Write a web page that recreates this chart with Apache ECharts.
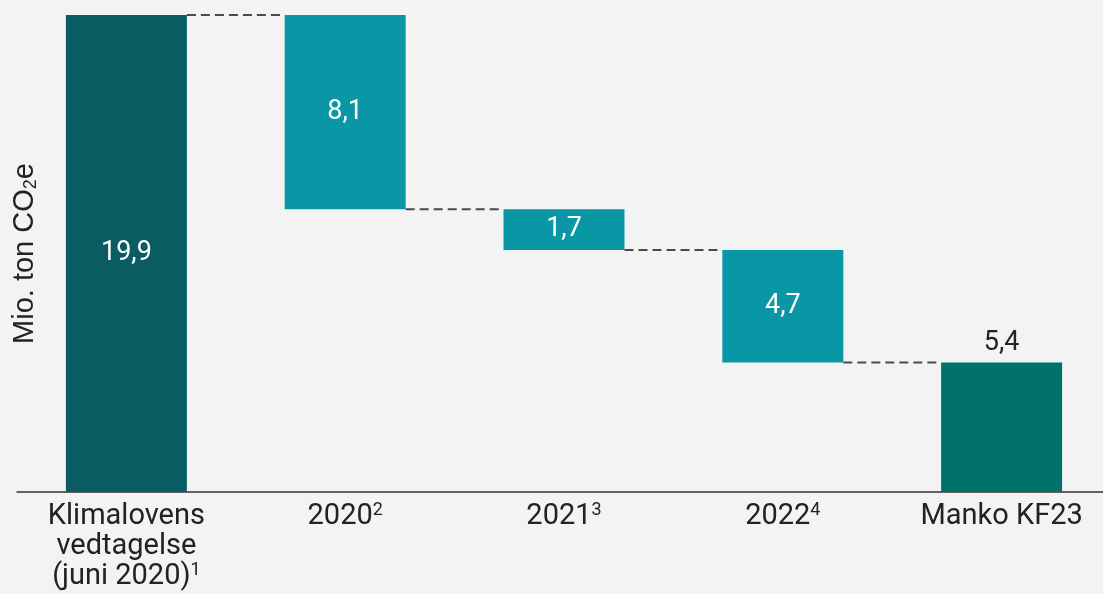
<!DOCTYPE html>
<html><head><meta charset="utf-8">
<script src="https://cdn.jsdelivr.net/npm/echarts@6/dist/echarts.min.js"></script>
<style>html,body{margin:0;padding:0;background:#f3f3f3;overflow:hidden}#c{width:1103px;height:594px}</style>
</head><body><div id="c"></div>
<script>
const categories = ['Klimalovens\nvedtagelse\n(juni 2020){sup|1}', '2020{sup|2}', '2021{sup|3}', '2022{sup|4}', 'Manko KF23'];
const values = [19.9, 8.1, 1.7, 4.7, 5.4];
const kinds = ['total', 'drop', 'drop', 'drop', 'total'];
const colors = ['#0b5b63', '#0a97a5', '#0a97a5', '#0a97a5', '#00726a'];

// compute waterfall bases
const bases = [];
const levels = [];
let level = 0;
values.forEach((v, i) => {
  if (kinds[i] === 'total') { bases.push(0); level = v; }
  else { level = level - v; bases.push(level); }
  levels.push(kinds[i] === 'total' ? v : level);
});
const connectors = [];
for (let i = 0; i < values.length - 1; i++) connectors.push([i, levels[i]]);

const BAR_W = 121;
const fmt = v => v.toFixed(1).replace('.', ',');
const chart = echarts.init(document.getElementById('c'));
chart.setOption({
  backgroundColor: '#f3f3f3',
  animation: false,
  grid: { left: 17, top: 15, width: 1094, bottom: 102, containLabel: false, outerBoundsMode: 'none' },
  xAxis: {
    type: 'category', data: categories,
    axisLine: { lineStyle: { color: '#333', width: 1.5 } },
    axisTick: { show: false },
    axisLabel: {
      interval: 0, margin: 10, color: '#222', fontFamily: 'Roboto', fontSize: 29, lineHeight: 30,
      rich: { sup: { fontSize: 18, fontFamily: 'Roboto', color: '#222', padding: [0, 0, 14, 0] } }
    }
  },
  yAxis: {
    type: 'value', min: 0, max: 'dataMax',
    splitLine: { show: false }, axisLine: { show: false }, axisTick: { show: false }, axisLabel: { show: false },
    name: 'Mio. ton CO{sub|2}e', nameLocation: 'middle', nameRotate: 90, nameGap: -23,
    nameTextStyle: {
      fontFamily: 'Liberation Sans', fontSize: 29, color: '#222',
      rich: { sub: { fontSize: 18, fontFamily: 'Liberation Sans', color: '#222', padding: [12, 0, 0, 0] } }
    }
  },
  series: [
    { type: 'bar', stack: 'w', barWidth: BAR_W, data: bases, itemStyle: { color: 'transparent' }, silent: true },
    {
      type: 'bar', stack: 'w', barWidth: BAR_W,
      data: values.map((v, i) => ({
        value: v, itemStyle: { color: colors[i] },
        label: i === values.length - 1 ? { position: 'top', color: '#222', distance: 6 } : { position: 'inside', color: '#fff' }
      })),
      label: { show: true, fontFamily: 'Roboto', fontSize: 27, formatter: p => fmt(p.value) }
    },
    {
      type: 'custom', data: connectors, z: 1,
      renderItem: (params, api) => {
        const i = api.value(0), lv = api.value(1);
        const p1 = api.coord([i, lv]);
        const p2 = api.coord([i + 1, lv]);
        return {
          type: 'line',
          shape: { x1: p1[0] + BAR_W / 2, y1: p1[1], x2: p2[0] - BAR_W / 2, y2: p2[1] },
          style: { stroke: '#4a4a4a', lineWidth: 2, lineDash: [9, 5] }
        };
      }
    }
  ]
});
</script></body></html>
